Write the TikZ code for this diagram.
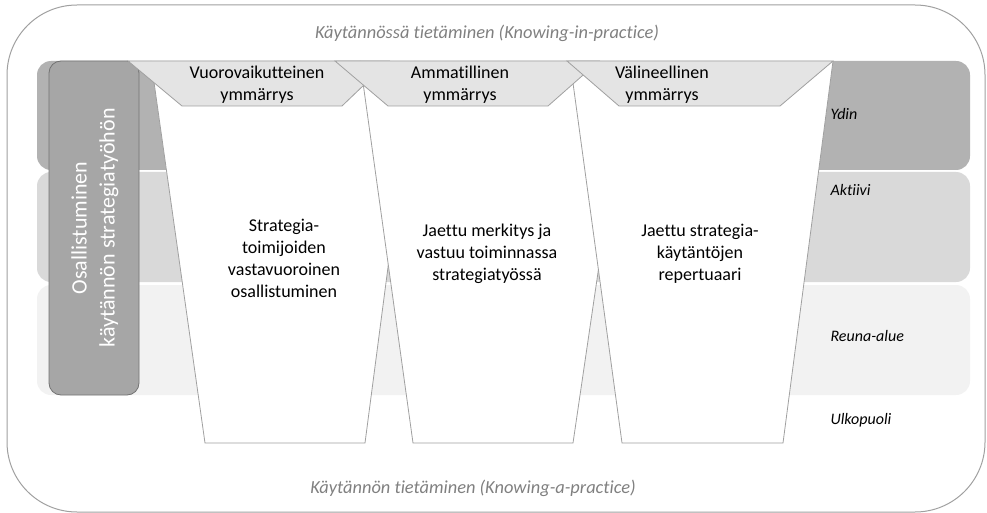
\documentclass[tikz,border=0pt]{standalone}
\usepackage{fontspec}
\setmainfont{Carlito}[Ligatures=CommonOff]
\usepackage{tikz}
\usetikzlibrary{positioning}
\definecolor{bandCore}{RGB}{178,178,178}
\definecolor{bandActive}{RGB}{217,217,217}
\definecolor{bandEdge}{RGB}{242,242,242}
\definecolor{boxGray}{RGB}{166,166,166}
\definecolor{boxLine}{RGB}{115,115,115}
\definecolor{lineGray}{RGB}{160,160,160}
\definecolor{headGray}{RGB}{228,228,228}
\definecolor{labelGray}{RGB}{128,128,128}

\begin{document}
\begin{tikzpicture}[x=1pt, y=-1pt,
    band/.style={rounded corners=14pt},
    cup/.style={draw=lineGray, fill=white, line width=0.8pt},
    head/.style={draw=lineGray, fill=headGray, line width=0.8pt},
    txt/.style={font=\fontsize{18}{22}\selectfont, align=center},
    lvl/.style={font=\fontsize{16}{18}\selectfont\itshape, anchor=west},
    know/.style={font=\fontsize{18.4}{20}\selectfont\itshape, text=labelGray}
  ]
  \useasboundingbox (0,0) rectangle (987,513);
  \draw[lineGray, line width=1pt, rounded corners=70pt] (7,5) rectangle (985,512);
  % levels
  \fill[bandCore, band] (37,61) rectangle (970,170);
  \fill[bandActive, band] (37,172) rectangle (970,282);
  \fill[bandEdge, band] (37,285) rectangle (970,395);
  \draw[boxLine, fill=boxGray, rounded corners=12pt, line width=0.8pt] (49,61) rectangle (139,395);
  % cups and headers
  \foreach \tl/\bl/\br/\tr in {151/205/365/415, 360/413/573/629, 570/622/783/833}
    \draw[cup] (\tl,61) -- (\bl,443) -- (\br,443) -- (\tr,61);
  \foreach \tl/\bl/\br/\tr in {128/182/342/389, 335/388/548/599, 567/619/780/833}
    \draw[head] (\tl,61) -- (\bl,106) -- (\br,106) -- (\tr,61) -- cycle;
  \node[txt] (h1) at (257,85) {Vuorovaikutteinen\\ymmärrys};
  \node[txt] (h2) at (460,85) {Ammatillinen\\ymmärrys};
  \node[txt] (h3) at (662,85) {Välineellinen\\ymmärrys};
  \node[txt] (c1) at (284,258) {Strategia-\\toimijoiden\\vastavuoroinen\\osallistuminen};
  \node[txt] (c2) at (487,254) {Jaettu merkitys ja\\vastuu toiminnassa\\strategiatyössä};
  \node[txt] (c3) at (700,254) {Jaettu strategia-\\käytäntöjen\\repertuaari};
  \node[lvl] (ydin) at (827,114) {Ydin};
  \node[lvl] (aktiivi) at (827,190) {Aktiivi};
  \node[lvl] (reuna) at (827,336) {Reuna-alue};
  \node[lvl] (ulko) at (827,420) {Ulkopuoli};
  \node[rotate=90, text=white, align=center, font=\fontsize{22}{28}\selectfont] (part) at (95,228)
    {Osallistuminen\\käytännön strategiatyöhön};
  \node[know] (inpractice) at (487,33) {Käytännössä tietäminen (Knowing-in-practice)};
  \node[know] (apractice) at (473,488) {Käytännön tietäminen (Knowing-a-practice)};
\end{tikzpicture}
\end{document}
